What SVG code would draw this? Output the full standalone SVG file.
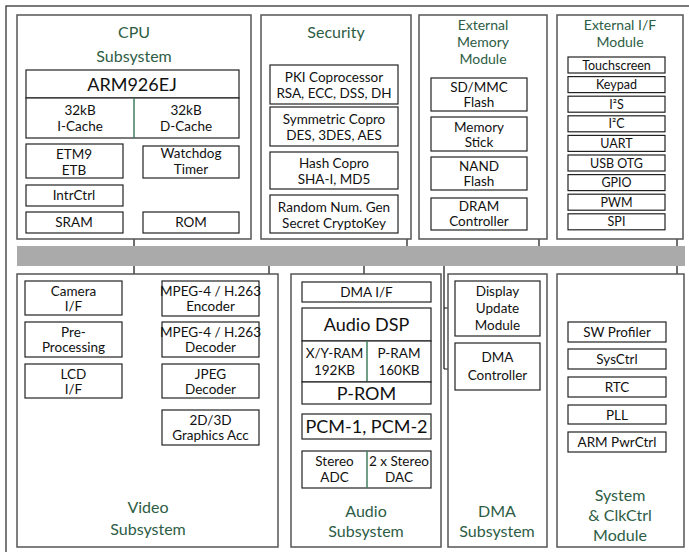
<svg xmlns="http://www.w3.org/2000/svg" width="689" height="552" viewBox="0 0 689 552">
<style>
.grp{fill:#fff;stroke:#555;stroke-width:1.5}
.box{fill:#fff;stroke:#222;stroke-width:1.2}
.t{font-family:Lato,"Open Sans",sans-serif;font-size:13.5px;text-anchor:middle;fill:#111}
.s{font-size:12.5px}
.big{font-size:18px}
.ttl{font-family:Lato,"Open Sans",sans-serif;font-size:16px;text-anchor:middle;fill:#2e5d45}
.st{font-size:14px}
.w{stroke:#111;stroke-width:1.2;fill:none}
.g{stroke:#3f7f5f;stroke-width:1.5;fill:none}
</style>
<rect x="0" y="0" width="689" height="552" fill="#fff"/>
<rect x="6" y="6" width="700" height="560" fill="none" stroke="#222" stroke-width="1.2"/>

<g id="connectors">
<path class="w" d="M134,138V382 M134,162H143 M123,222H143 M122,299H134 M122,341H134 M122,382H134"/>
<path class="w" d="M407,85V246 M398,85H407 M398,126H407 M398,170H407 M398,215H407"/>
<path class="w" d="M539,93V246 M527,93H539 M527,136H539 M527,173H539 M527,212H539"/>
<path class="w" d="M677,65V442 M665,65H677 M665,84.6H677 M665,104.2H677 M665,123.8H677 M665,143.4H677 M665,163H677 M665,182.6H677 M665,202.2H677 M665,221.8H677"/>
<path class="w" d="M666,335H677 M666,362H677 M666,388H677 M666,415H677 M666,442H677"/>
<path class="w" d="M269,266V426 M259,298H269 M259,339H269 M259,379H269 M259,426H269"/>
<path class="w" d="M364,266V282"/>
<path class="w" d="M444,266V369 M444,308H455 M444,369H455"/>
</g>

<g id="bus"><rect x="17" y="246" width="668" height="20" fill="#aaa"/></g>

<g id="cpu">
<rect class="grp" x="17" y="15" width="234" height="224"/>
<text class="ttl" x="134" y="38">CPU</text>
<text class="ttl" x="134" y="62">Subsystem</text>
<rect class="box" x="26" y="70" width="213" height="28"/>
<text class="t big" x="132" y="91">ARM926EJ</text>
<rect class="box" x="26" y="98" width="213" height="40"/>
<line class="g" x1="134" y1="98" x2="134" y2="138"/>
<text class="t" x="80" y="115">32kB</text><text class="t" x="80" y="131">I-Cache</text>
<text class="t" x="186" y="115">32kB</text><text class="t" x="186" y="131">D-Cache</text>
<rect class="box" x="26" y="144" width="97" height="34"/>
<text class="t" x="74" y="159">ETM9</text><text class="t" x="74" y="175">ETB</text>
<rect class="box" x="143" y="146" width="96" height="32"/>
<text class="t" x="191" y="158">Watchdog</text><text class="t" x="191" y="174">Timer</text>
<rect class="box" x="26" y="185" width="97" height="21"/>
<text class="t" x="74" y="200">IntrCtrl</text>
<rect class="box" x="26" y="212" width="97" height="21"/>
<text class="t" x="74" y="227">SRAM</text>
<rect class="box" x="143" y="212" width="96" height="21"/>
<text class="t" x="191" y="227">ROM</text>
</g>

<g id="security">
<rect class="grp" x="261" y="15" width="150" height="224"/>
<text class="ttl" x="336" y="38">Security</text>
<rect class="box" x="270" y="65" width="128" height="39"/>
<text class="t" x="334" y="82">PKI Coprocessor</text><text class="t" x="334" y="98">RSA, ECC, DSS, DH</text>
<rect class="box" x="270" y="107" width="128" height="39"/>
<text class="t" x="334" y="124">Symmetric Copro</text><text class="t" x="334" y="140">DES, 3DES, AES</text>
<rect class="box" x="270" y="152" width="128" height="37"/>
<text class="t" x="334" y="168">Hash Copro</text><text class="t" x="334" y="184">SHA-I, MD5</text>
<rect class="box" x="270" y="195" width="128" height="38"/>
<text class="t" x="334" y="212">Random Num. Gen</text><text class="t" x="334" y="228">Secret CryptoKey</text>
</g>

<g id="extmem">
<rect class="grp" x="419" y="15" width="128" height="224"/>
<text class="ttl st" x="483" y="30">External</text>
<text class="ttl st" x="483" y="47">Memory</text>
<text class="ttl st" x="483" y="64">Module</text>
<rect class="box" x="431" y="78" width="96" height="33"/>
<text class="t" x="479" y="92">SD/MMC</text><text class="t" x="479" y="107">Flash</text>
<rect class="box" x="431" y="117" width="96" height="34"/>
<text class="t" x="479" y="132">Memory</text><text class="t" x="479" y="147">Stick</text>
<rect class="box" x="431" y="157" width="96" height="33"/>
<text class="t" x="479" y="171">NAND</text><text class="t" x="479" y="186">Flash</text>
<rect class="box" x="431" y="198" width="96" height="32"/>
<text class="t" x="479" y="211">DRAM</text><text class="t" x="479" y="226">Controller</text>
</g>

<g id="extif">
<rect class="grp" x="557" y="15" width="126" height="224"/>
<text class="ttl st" x="620" y="30">External I/F</text>
<text class="ttl st" x="620" y="47">Module</text>
<rect class="box" x="568" y="57" width="97" height="16"/><text class="t s" x="616.5" y="69.5">Touchscreen</text>
<rect class="box" x="568" y="76.6" width="97" height="16"/><text class="t s" x="616.5" y="89.1">Keypad</text>
<rect class="box" x="568" y="96.2" width="97" height="16"/><text class="t s" x="616.5" y="108.7">I²S</text>
<rect class="box" x="568" y="115.8" width="97" height="16"/><text class="t s" x="616.5" y="128.3">I²C</text>
<rect class="box" x="568" y="135.4" width="97" height="16"/><text class="t s" x="616.5" y="147.9">UART</text>
<rect class="box" x="568" y="155" width="97" height="16"/><text class="t s" x="616.5" y="167.5">USB OTG</text>
<rect class="box" x="568" y="174.6" width="97" height="16"/><text class="t s" x="616.5" y="187.1">GPIO</text>
<rect class="box" x="568" y="194.2" width="97" height="16"/><text class="t s" x="616.5" y="206.7">PWM</text>
<rect class="box" x="568" y="213.8" width="97" height="16"/><text class="t s" x="616.5" y="226.3">SPI</text>
</g>

<g id="video">
<rect class="grp" x="17" y="274" width="261" height="273"/>
<rect class="box" x="25" y="281" width="97" height="34"/>
<text class="t" x="73.5" y="296">Camera</text><text class="t" x="73.5" y="311">I/F</text>
<rect class="box" x="25" y="322" width="97" height="35"/>
<text class="t" x="73.5" y="337">Pre-</text><text class="t" x="73.5" y="352">Processing</text>
<rect class="box" x="25" y="364" width="97" height="34"/>
<text class="t" x="73.5" y="379">LCD</text><text class="t" x="73.5" y="394">I/F</text>
<rect class="box" x="162" y="281" width="97" height="35"/>
<text class="t" x="210.5" y="296">MPEG-4 / H.263</text><text class="t" x="210.5" y="311">Encoder</text>
<rect class="box" x="162" y="322" width="97" height="35"/>
<text class="t" x="210.5" y="337">MPEG-4 / H.263</text><text class="t" x="210.5" y="352">Decoder</text>
<rect class="box" x="162" y="364" width="97" height="34"/>
<text class="t" x="210.5" y="379">JPEG</text><text class="t" x="210.5" y="394">Decoder</text>
<rect class="box" x="162" y="410" width="97" height="35"/>
<text class="t" x="210.5" y="425">2D/3D</text><text class="t" x="210.5" y="440">Graphics Acc</text>
<text class="ttl" x="148" y="513">Video</text>
<text class="ttl" x="148" y="535">Subsystem</text>
</g>

<g id="audio">
<rect class="grp" x="291" y="274" width="150" height="273"/>
<rect class="box" x="302" y="282" width="129" height="20"/>
<text class="t" x="366.5" y="297">DMA I/F</text>
<rect class="box" x="302" y="308" width="129" height="33"/>
<text class="t big" x="366.5" y="331">Audio DSP</text>
<rect class="box" x="302" y="341" width="129" height="41"/>
<line class="g" x1="367" y1="341" x2="367" y2="382"/>
<text class="t" x="334.5" y="358">X/Y-RAM</text><text class="t" x="334.5" y="375">192KB</text>
<text class="t" x="399" y="358">P-RAM</text><text class="t" x="399" y="375">160KB</text>
<rect class="box" x="302" y="382" width="129" height="22"/>
<text class="t big" x="366.5" y="400">P-ROM</text>
<rect class="box" x="302" y="414" width="129" height="25"/>
<text class="t big" x="366.5" y="433">PCM-1, PCM-2</text>
<rect class="box" x="302" y="451" width="129" height="37"/>
<line class="g" x1="367" y1="451" x2="367" y2="488"/>
<text class="t" x="334.5" y="466">Stereo</text><text class="t" x="334.5" y="482">ADC</text>
<text class="t" x="399" y="466">2 x Stereo</text><text class="t" x="399" y="482">DAC</text>
<text class="ttl" x="366" y="517">Audio</text>
<text class="ttl" x="366" y="537">Subsystem</text>
</g>

<g id="dma">
<rect class="grp" x="448" y="274" width="99" height="273"/>
<rect class="box" x="455" y="281" width="85" height="55"/>
<text class="t" x="497.5" y="296">Display</text><text class="t" x="497.5" y="313">Update</text><text class="t" x="497.5" y="330">Module</text>
<rect class="box" x="455" y="343" width="85" height="47"/>
<text class="t" x="497.5" y="362">DMA</text><text class="t" x="497.5" y="380">Controller</text>
<text class="ttl" x="497" y="517">DMA</text>
<text class="ttl" x="497" y="537">Subsystem</text>
</g>

<g id="system">
<rect class="grp" x="557" y="274" width="127" height="273"/>
<rect class="box" x="568" y="322" width="98" height="20"/><text class="t" x="617" y="337">SW Profiler</text>
<rect class="box" x="568" y="349" width="98" height="20"/><text class="t" x="617" y="364">SysCtrl</text>
<rect class="box" x="568" y="377" width="98" height="20"/><text class="t" x="617" y="392">RTC</text>
<rect class="box" x="568" y="405" width="98" height="19"/><text class="t" x="617" y="419.5">PLL</text>
<rect class="box" x="568" y="432" width="98" height="20"/><text class="t" x="617" y="447">ARM PwrCtrl</text>
<text class="ttl" x="620" y="501">System</text>
<text class="ttl" x="620" y="521">&amp; ClkCtrl</text>
<text class="ttl" x="620" y="541">Module</text>
</g>
</svg>
